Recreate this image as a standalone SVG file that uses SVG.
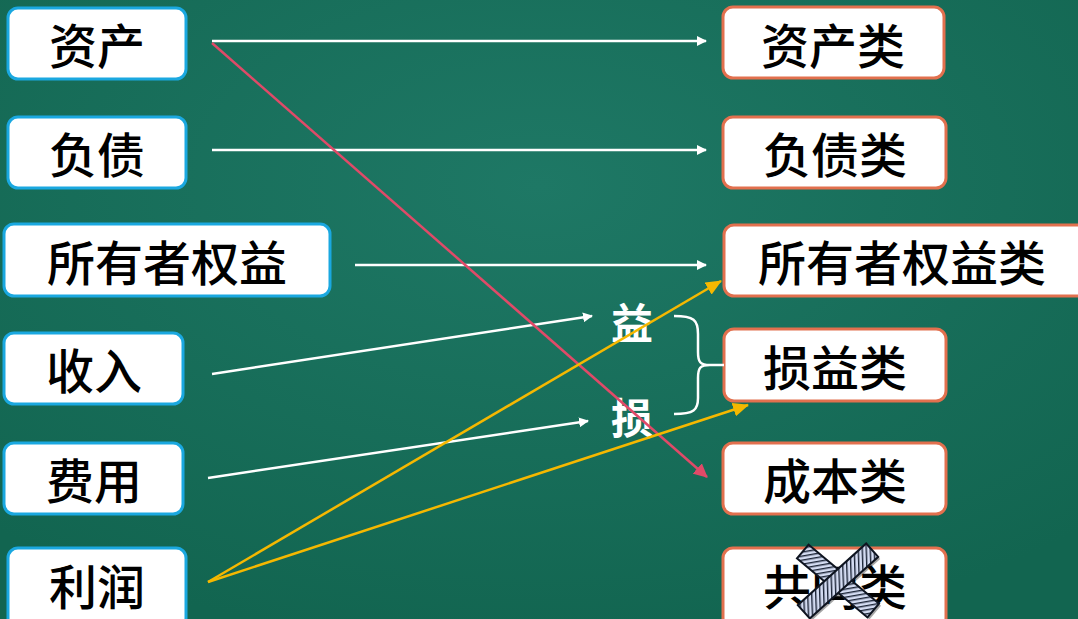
<svg xmlns="http://www.w3.org/2000/svg" width="1078" height="619" viewBox="0 0 1078 619">
<defs>
<radialGradient id="bg" cx="0.5" cy="0.3" r="0.75">
<stop offset="0" stop-color="#1e7865"/>
<stop offset="1" stop-color="#126550"/>
</radialGradient>
<marker id="aw" markerWidth="10" markerHeight="10" refX="9" refY="5" orient="auto" markerUnits="userSpaceOnUse" viewBox="0 0 10 10"><path d="M0,0 L10,5 L0,10 z" fill="#ffffff"/></marker>
<marker id="ar" markerWidth="14" markerHeight="14" refX="13" refY="7" orient="auto" markerUnits="userSpaceOnUse" viewBox="0 0 14 14"><path d="M0,0 L14,7 L0,14 z" fill="#e04a68"/></marker>
<marker id="ay" markerWidth="16" markerHeight="14" refX="15" refY="7" orient="auto" markerUnits="userSpaceOnUse" viewBox="0 0 16 14"><path d="M0,0 L16,7 L0,14 z" fill="#f5b800"/></marker>
<pattern id="stripe" width="4" height="4" patternUnits="userSpaceOnUse" patternTransform="rotate(-50)">
<rect width="4" height="4" fill="#d4dcf2"/><rect width="4" height="1.4" fill="#1b2436"/>
</pattern>
<style>
.lb{fill:#fff;stroke:#1aa8e0;stroke-width:3}
.rb{fill:#fff;stroke:#e2704e;stroke-width:3}
.t{font-family:"Noto Sans CJK SC","Noto Sans",sans-serif;font-size:48px;font-weight:500;fill:#000;text-anchor:middle;dominant-baseline:central}
.w{stroke:#fff;stroke-width:2.5;fill:none}
.r{stroke:#e04a68;stroke-width:2.5;fill:none}
.y{stroke:#f5b800;stroke-width:2.5;fill:none}
.lab{font-family:"Noto Sans CJK SC",sans-serif;font-size:42px;font-weight:bold;fill:#fff;text-anchor:middle;dominant-baseline:central}
</style>
</defs>
<rect width="1078" height="619" fill="url(#bg)"/>

<g id="n-zichan"><rect class="lb" x="8" y="8" width="178" height="71" rx="10"/><text class="t" x="97" y="43">资产</text></g>
<g id="n-fuzhai"><rect class="lb" x="8" y="117" width="178" height="71" rx="10"/><text class="t" x="97" y="152">负债</text></g>
<g id="n-quanyi"><rect class="lb" x="4" y="224" width="326" height="72" rx="10"/><text class="t" x="167" y="260">所有者权益</text></g>
<g id="n-shouru"><rect class="lb" x="4" y="333" width="179" height="71" rx="10"/><text class="t" x="94" y="368">收入</text></g>
<g id="n-feiyong"><rect class="lb" x="4" y="443" width="179" height="71" rx="10"/><text class="t" x="94" y="478">费用</text></g>
<g id="n-lirun"><rect class="lb" x="8" y="548" width="178" height="80" rx="10"/><text class="t" x="97" y="584">利润</text></g>

<g id="n-zichanlei"><rect class="rb" x="723" y="7" width="221" height="71" rx="10"/><text class="t" x="833" y="43">资产类</text></g>
<g id="n-fuzhailei"><rect class="rb" x="723" y="117" width="223" height="71" rx="10"/><text class="t" x="835" y="152">负债类</text></g>
<g id="n-quanyilei"><rect class="rb" x="724" y="225" width="370" height="71" rx="10"/><text class="t" x="902" y="260">所有者权益类</text></g>
<g id="n-sunyilei"><rect class="rb" x="724" y="329" width="222" height="72" rx="10"/><text class="t" x="835" y="365">损益类</text></g>
<g id="n-chengbenlei"><rect class="rb" x="723" y="443" width="223" height="71" rx="10"/><text class="t" x="835" y="478">成本类</text></g>
<g id="n-gongtonglei"><rect class="rb" x="723" y="548" width="223" height="80" rx="10"/><text class="t" x="835" y="584">共同类</text>
<g id="cross" stroke="#0e1420" stroke-width="2">
<g transform="translate(2 2)" fill="#000" opacity="0.35" stroke="none">
<rect x="792" y="572" width="92" height="18" transform="rotate(40 838 581)"/>
<rect x="792" y="572" width="92" height="18" transform="rotate(-42 838 581)"/>
</g>
<rect x="792" y="572" width="92" height="18" transform="rotate(40 838 581)" fill="url(#stripe)"/>
<rect x="792" y="572" width="92" height="18" transform="rotate(-42 838 581)" fill="url(#stripe)"/>
</g>
</g>

<g id="labels">
<text class="lab" x="632" y="320">益</text>
<text class="lab" x="632" y="415">损</text>
<path class="w" d="M674,316 C694,316 698,320 698,334 L698,352 C698,362 700,365 710,365 L724,365 M710,365 C700,365 698,368 698,378 L698,398 C698,410 694,414 674,414"/>
</g>

<g id="connectors">
<line class="w" x1="212" y1="41" x2="706" y2="41" marker-end="url(#aw)"/>
<line class="w" x1="212" y1="150" x2="706" y2="150" marker-end="url(#aw)"/>
<line class="w" x1="355" y1="265" x2="706" y2="265" marker-end="url(#aw)"/>
<line class="w" x1="212" y1="374" x2="592" y2="316" marker-end="url(#aw)"/>
<line class="w" x1="208" y1="478" x2="588" y2="421" marker-end="url(#aw)"/>
<line class="r" x1="212" y1="43" x2="707" y2="477" marker-end="url(#ar)"/>
<line class="y" x1="208" y1="582" x2="721" y2="281" marker-end="url(#ay)"/>
<line class="y" x1="208" y1="582" x2="748" y2="405" marker-end="url(#ay)"/>
</g>
</svg>
